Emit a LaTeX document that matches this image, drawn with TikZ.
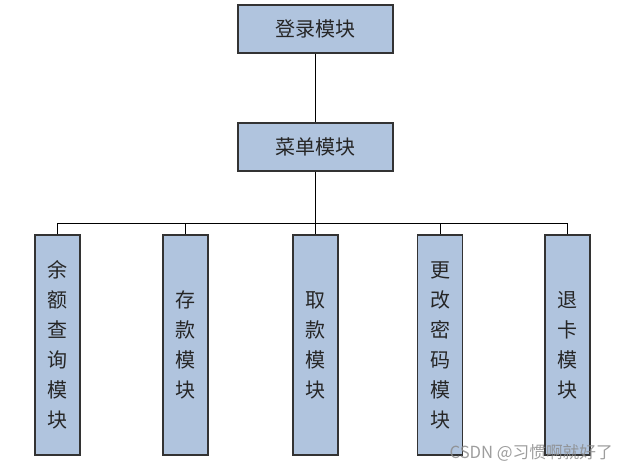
\documentclass[tikz,border=0pt]{standalone}
\usepackage{fontspec}
\newfontfamily\cjk{Noto Sans CJK SC}
\usepackage{tikz}

\definecolor{boxblue}{RGB}{176,196,222}

\begin{document}
\begin{tikzpicture}[x=0.75pt,y=0.75pt,yscale=-1,xscale=1,
  modbox/.style={draw=black!80, line width=0.8pt, fill=boxblue, inner sep=0pt,
    font=\cjk\fontsize{15}{18}\selectfont, text=black!85},
  wide/.style={modbox, minimum width=116.25pt, minimum height=36pt},
  tall/.style={modbox, minimum width=33.75pt, minimum height=165pt, align=center,
    font=\cjk\fontsize{15}{22.5}\selectfont},
  link/.style={draw=black, line width=0.6pt}]
\useasboundingbox (0,0) rectangle (626,472);

% top modules
\node [wide] (login) at (315.5,29) {登录模块};
\node [wide] (menu) at (315.5,147) {菜单模块};

% bus
\coordinate (bus) at (315.5,223);

% sub modules
\node [tall] (balance) at (57.5,345) {余\\额\\查\\询\\模\\块};
\node [tall] (deposit) at (185.5,345) {存\\款\\模\\块};
\node [tall] (withdraw) at (315.5,345) {取\\款\\模\\块};
\node [tall] (passwd) at (440,345) {更\\改\\密\\码\\模\\块};
\node [tall] (eject) at (567.5,345) {退\\卡\\模\\块};

% connectors
\draw [link] (login) -- (menu);
\draw [link] (menu) -- (bus);
\foreach \m in {balance,deposit,withdraw,passwd,eject}
  \draw [link] (\m.north) |- (bus);

% watermark
\node [anchor=east, inner sep=0pt, text=black!45, opacity=0.85, font=\cjk\fontsize{12.5}{14}\selectfont] (mark) at (613,453) {CSDN @习惯啊就好了};

\end{tikzpicture}
\end{document}
